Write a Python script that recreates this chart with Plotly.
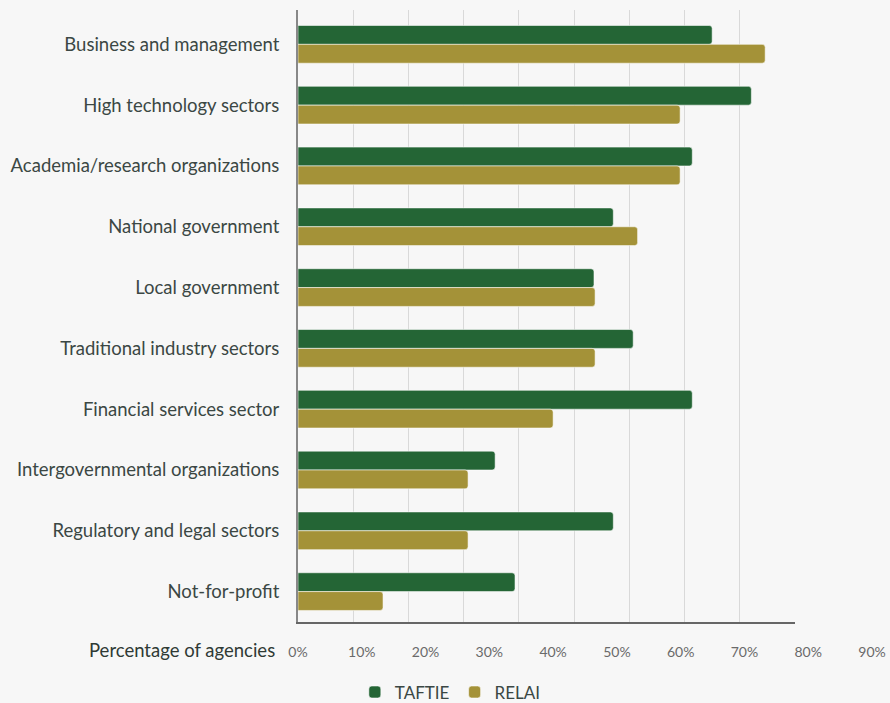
import plotly.graph_objects as go

categories = [
    "Business and management",
    "High technology sectors",
    "Academia/research organizations",
    "National government",
    "Local government",
    "Traditional industry sectors",
    "Financial services sector",
    "Intergovernmental organizations",
    "Regulatory and legal sectors",
    "Not-for-profit",
]
taftie = [75.0, 82.1, 71.4, 57.1, 53.6, 60.7, 71.4, 35.7, 57.1, 39.3]
relai = [84.6, 69.2, 69.2, 61.5, 53.8, 53.8, 46.2, 30.8, 30.8, 15.4]
x_ticks = [0, 10, 20, 30, 40, 50, 60, 70, 80, 90]
x_tick_labels = [f"{v}%" for v in x_ticks]

GREEN = "#246535"
GOLD = "#A49238"
BG = "#F7F7F7"
FONT = "Lato"
TEXT = "#3b4744"

fig = go.Figure()
fig.add_trace(go.Bar(
    name="TAFTIE", y=categories, x=taftie, orientation="h",
    marker=dict(color=GREEN, cornerradius=3,
                line=dict(color="rgba(255,255,255,0.55)", width=1)),
))
fig.add_trace(go.Bar(
    name="RELAI", y=categories, x=relai, orientation="h",
    marker=dict(color=GOLD, cornerradius=3,
                line=dict(color="rgba(255,255,255,0.55)", width=1)),
))
# helper (invisible) trace to carry the label axis
fig.add_trace(go.Scatter(
    x=[x_ticks[0], x_ticks[-1]], y=[categories[0], categories[0]],
    xaxis="x2", mode="markers", marker=dict(opacity=0),
    showlegend=False, hoverinfo="skip",
))

plot_l, plot_r = 298, 872
grid_end = 795
dom_end = (grid_end - plot_l) / (plot_r - plot_l)

fig.update_layout(
    width=890, height=703,
    margin=dict(l=plot_l, r=890 - plot_r, t=10, b=81, pad=0, autoexpand=False),
    paper_bgcolor=BG, plot_bgcolor="rgba(0,0,0,0)",
    font=dict(family=FONT, color=TEXT),
    barmode="group", bargap=0.38, bargroupgap=0.0,
    xaxis=dict(
        domain=[0, dom_end], range=[0, 90], tickvals=x_ticks,
        showticklabels=False, showgrid=True, gridcolor="#D9D9D9", gridwidth=1,
        showline=True, linecolor="#666666", linewidth=1.5, zeroline=False,
        automargin=False,
    ),
    xaxis2=dict(
        domain=[0, 1], range=[0, 90], tickvals=x_ticks, ticktext=x_tick_labels,
        anchor="free", position=0, side="bottom", showgrid=False, zeroline=False,
        showline=False, ticks="outside", ticklen=17, tickcolor="rgba(0,0,0,0)",
        tickfont=dict(family=FONT, size=14, color="#6a6a6a"),
        automargin=False,
    ),
    yaxis=dict(
        autorange="reversed", showgrid=False, zeroline=False,
        showline=True, linecolor="#888888", linewidth=2,
        ticks="outside", ticklen=13, tickcolor="rgba(0,0,0,0)",
        tickfont=dict(family=FONT, size=18.5, color=TEXT),
        automargin=False,
    ),
    legend=dict(
        orientation="h", xref="container", yref="container",
        x=0.506, xanchor="center", y=0.015, yanchor="middle",
        font=dict(family=FONT, size=17, color=TEXT),
        itemwidth=30, bgcolor="rgba(0,0,0,0)",
    ),
    annotations=[dict(
        text="Percentage of agencies", xref="paper", yref="paper",
        x=-0.037, y=0, xanchor="right", yanchor="top", yshift=-15,
        showarrow=False, font=dict(family=FONT, size=18.5, color="#2f3a35"),
    )],
)

fig.write_html("out.html")
